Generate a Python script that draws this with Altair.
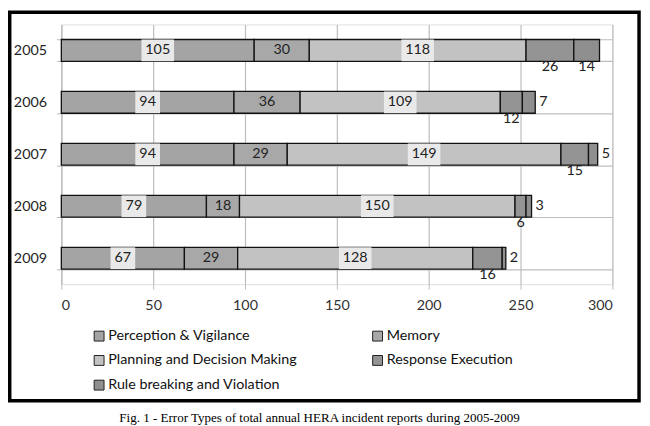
import altair as alt
import pandas as pd

years = ["2005", "2006", "2007", "2008", "2009"]
categories = ["Perception & Vigilance", "Memory", "Planning and Decision Making",
              "Response Execution", "Rule breaking and Violation"]
perception = [105, 94, 94, 79, 67]
memory = [30, 36, 29, 18, 29]
planning = [118, 109, 149, 150, 128]
response = [26, 12, 15, 6, 16]
rule = [14, 7, 5, 3, 2]
colors = ["#a4a4a4", "#a8a8a8", "#c2c2c2", "#949494", "#8f8f8f"]
# where each series' value label sits: inside the segment, below it, or right of the bar
label_place = {
    "Perception & Vigilance": ["center"] * 5,
    "Memory": ["center"] * 5,
    "Planning and Decision Making": ["center"] * 5,
    "Response Execution": ["below"] * 5,
    "Rule breaking and Violation": ["below", "right", "right", "right", "right"],
}
caption = "Fig. 1 - Error Types of total annual HERA incident reports during 2005-2009"

series_values = [perception, memory, planning, response, rule]
rows = []
for i, y in enumerate(years):
    cum = 0
    for k, cat in enumerate(categories):
        v = series_values[k][i]
        rows.append({"year": y, "series": cat, "order": k, "value": v,
                     "start": cum, "end": cum + v, "mid": cum + v / 2,
                     "label": str(v), "place": label_place[cat][i]})
        cum += v
df = pd.DataFrame(rows)

FONT = "Lato"
FS = 14.5
base = alt.Chart(df)

yenc = alt.Y("year:N", sort=years, title=None,
             scale=alt.Scale(paddingInner=0.58, paddingOuter=0.29),
             axis=alt.Axis(tickBand="extent", grid=True, gridColor="#bdbdbd",
                           gridWidth=1.2, tickColor="#bdbdbd", tickSize=5,
                           domainColor="#bdbdbd", labelPadding=10,
                           labelFontSize=FS, labelFont=FONT, labelColor="#222"))

bars = base.mark_bar(stroke="#111", strokeWidth=1.3).encode(
    x=alt.X("start:Q", title=None, scale=alt.Scale(domain=[0, 300], nice=False),
            axis=alt.Axis(values=[0, 50, 100, 150, 200, 250, 300], grid=True,
                          gridColor="#bdbdbd", gridWidth=1.2, ticks=True,
                          tickSize=5, tickColor="#bdbdbd",
                          domain=False, labelPadding=10, labelFontSize=FS,
                          labelFont=FONT, labelColor="#333")),
    x2="end:Q",
    y=yenc,
    color=alt.Color("series:N", sort=categories,
                    scale=alt.Scale(domain=categories, range=colors),
                    legend=alt.Legend(orient="none", legendX=31, legendY=308,
                                      direction="horizontal",
                                      columns=2, columnPadding=74, rowPadding=9,
                                      symbolType="square", symbolSize=100,
                                      symbolStrokeColor="#222", symbolStrokeWidth=1,
                                      labelFontSize=FS, labelFont=FONT,
                                      labelColor="#111", labelLimit=300,
                                      title=None, labelOffset=2, padding=0)),
)

boxed = base.transform_filter(
    "(datum.series == 'Perception & Vigilance' || datum.series == 'Planning and Decision Making')")
box3 = boxed.transform_filter("length(datum.label) > 2").mark_point(
    shape="M-1,-0.667H1V0.667H-1Z", size=1089, filled=True, opacity=1,
    color="#e9e9e9", strokeWidth=0).encode(x="mid:Q", y=alt.Y("year:N", sort=years))
box2 = boxed.transform_filter("length(datum.label) <= 2").mark_point(
    shape="M-1,-0.88H1V0.88H-1Z", size=625, filled=True, opacity=1,
    color="#e9e9e9", strokeWidth=0).encode(x="mid:Q", y=alt.Y("year:N", sort=years))

txt_center = base.transform_filter("datum.place == 'center'").mark_text(
    font=FONT, fontSize=FS, color="#222").encode(
    x="mid:Q", y=alt.Y("year:N", sort=years), text="label:N")
txt_below = base.transform_filter("datum.place == 'below'").mark_text(
    font=FONT, fontSize=FS, color="#222", dy=17).encode(
    x="mid:Q", y=alt.Y("year:N", sort=years), text="label:N")
txt_right = base.transform_filter("datum.place == 'right'").mark_text(
    font=FONT, fontSize=FS, color="#222", align="left", dx=4).encode(
    x="end:Q", y=alt.Y("year:N", sort=years), text="label:N")

one = alt.Chart(pd.DataFrame({"a": [0]}))
frame = one.mark_rect(fill=None, stroke="#000", strokeWidth=3.5).encode(
    x=alt.value(-52.25), x2=alt.value(585), y=alt.value(-12.25), y2=alt.value(381))
cap = one.mark_text(font="Liberation Serif", fontSize=13.2, color="#000",
                    align="center", baseline="alphabetic").encode(
    x=alt.value(261.5), y=alt.value(403), text=alt.value(caption))

chart = alt.layer(bars, box3, box2, txt_center, txt_below, txt_right, frame, cap).properties(
    width=558, height=263,
    autosize=alt.AutoSizeParams(type="none"),
    padding={"left": 54, "top": 14, "right": 30, "bottom": 141},
).configure_view(stroke=None).configure(font=FONT)

chart.save("out.html", embed_options={"renderer": "svg", "actions": False})
